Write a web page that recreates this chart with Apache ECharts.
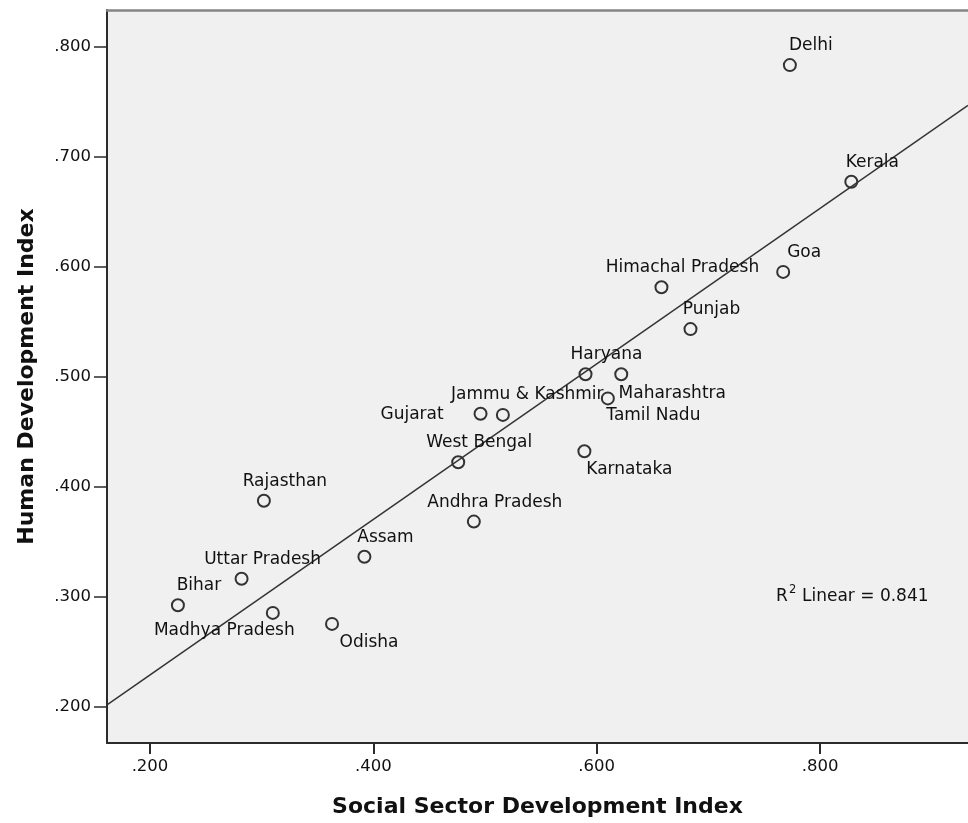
<!DOCTYPE html>
<html>
<head>
<meta charset="utf-8">
<script src="https://cdn.jsdelivr.net/npm/echarts@6/dist/echarts.min.js"></script>
<style>
  html, body { margin: 0; padding: 0; background: #ffffff; }
  #chart { width: 968px; height: 823px; }
</style>
</head>
<body>
<div id="chart"></div>
<script>
// States and their index values
const states = [
  'Delhi', 'Kerala', 'Goa', 'Himachal Pradesh', 'Punjab', 'Haryana',
  'Maharashtra', 'Tamil Nadu', 'Jammu & Kashmir', 'Gujarat', 'West Bengal',
  'Karnataka', 'Andhra Pradesh', 'Rajasthan', 'Assam', 'Uttar Pradesh',
  'Bihar', 'Madhya Pradesh', 'Odisha'
];
// Social Sector Development Index
const ssdi = [
  0.773, 0.828, 0.767, 0.658, 0.684, 0.590,
  0.622, 0.610, 0.516, 0.496, 0.476,
  0.589, 0.490, 0.302, 0.392, 0.282,
  0.225, 0.310, 0.363
];
// Human Development Index
const hdi = [
  0.783, 0.677, 0.595, 0.581, 0.543, 0.502,
  0.502, 0.480, 0.465, 0.466, 0.422,
  0.432, 0.368, 0.387, 0.336, 0.316,
  0.292, 0.285, 0.275
];
const xTicks = [0.2, 0.4, 0.6, 0.8];
const yTicks = [0.2, 0.3, 0.4, 0.5, 0.6, 0.7, 0.8];
const r2Text = 'Linear = 0.841';

// Axis extents
const X_MIN = 0.1615, X_MAX = 0.9325;
const Y_MIN = 0.1667, Y_MAX = 0.8331;

// Label placement (pixel offset of the label centre from its marker)
const DEFAULT_OFFSET = [21, -19.5];
const labelOffsets = {
  'Maharashtra': [51, 19],
  'Tamil Nadu': [45.5, 17],
  'Gujarat': [-68.5, 0.7],
  'Karnataka': [45, 18],
  'Madhya Pradesh': [-48.5, 17.3],
  'Odisha': [37, 18.3],
  'Jammu & Kashmir': [24.4, -20]
};

// Ordinary least squares fit of HDI on SSDI
function linearFit(xs, ys) {
  const n = xs.length;
  const mx = xs.reduce((a, b) => a + b, 0) / n;
  const my = ys.reduce((a, b) => a + b, 0) / n;
  let sxy = 0, sxx = 0;
  for (let i = 0; i < n; i++) {
    sxy += (xs[i] - mx) * (ys[i] - my);
    sxx += (xs[i] - mx) * (xs[i] - mx);
  }
  const slope = sxy / sxx;
  return { slope: slope, intercept: my - slope * mx };
}
const fit = linearFit(ssdi, hdi);
const fitLine = [X_MIN, X_MAX].map(x => [x, fit.intercept + fit.slope * x]);

const FONT = 'DejaVu Sans';
const fmt = v => '.' + v.toFixed(3).split('.')[1];

const points = states.map((s, i) => ({
  name: s,
  value: [ssdi[i], hdi[i]],
  label: { offset: labelOffsets[s] || DEFAULT_OFFSET }
}));

const chart = echarts.init(document.getElementById('chart'), null, { renderer: 'canvas' });
chart.setOption({
  animation: false,
  backgroundColor: '#ffffff',
  grid: {
    left: 107, right: 0, top: 10, bottom: 78,
    show: true, backgroundColor: '#f0f0f0', borderWidth: 0
  },
  xAxis: [{
    type: 'value', min: X_MIN, max: X_MAX,
    name: 'Social Sector Development Index',
    nameLocation: 'middle', nameGap: 53,
    nameTextStyle: { fontFamily: FONT, fontWeight: 'bold', fontSize: 22, color: '#111' },
    axisLine: { show: true, onZero: false, lineStyle: { color: '#2b2b2b', width: 2 } },
    axisTick: { show: true, length: 11, customValues: xTicks, lineStyle: { color: '#2b2b2b', width: 2 } },
    axisLabel: { customValues: xTicks, formatter: fmt, margin: 15,
      fontFamily: FONT, fontSize: 16.5, color: '#111' },
    splitLine: { show: false }
  }, {
    type: 'value', position: 'top', min: X_MIN, max: X_MAX,
    axisLine: { show: true, lineStyle: { color: '#858585', width: 2.5 } },
    axisTick: { show: false }, axisLabel: { show: false }, splitLine: { show: false }
  }],
  yAxis: {
    type: 'value', min: Y_MIN, max: Y_MAX,
    name: 'Human Development Index',
    nameLocation: 'middle', nameGap: 69, nameRotate: 90,
    nameTextStyle: { fontFamily: FONT, fontWeight: 'bold', fontSize: 22, color: '#111' },
    axisLine: { show: true, onZero: false, lineStyle: { color: '#2b2b2b', width: 2 } },
    axisTick: { show: true, length: 13, customValues: yTicks, lineStyle: { color: '#2b2b2b', width: 1.5 } },
    axisLabel: { customValues: yTicks, formatter: fmt, margin: 16,
      fontFamily: FONT, fontSize: 16.5, color: '#111' },
    splitLine: { show: false }
  },
  series: [{
    type: 'line',
    data: fitLine,
    showSymbol: false,
    silent: true,
    clip: true,
    lineStyle: { color: '#333333', width: 1.5 },
    z: 2
  }, {
    type: 'scatter',
    data: points,
    symbol: 'circle',
    symbolSize: 12,
    itemStyle: { color: 'rgba(0,0,0,0)', borderColor: '#333333', borderWidth: 2, opacity: 1 },
    label: {
      show: true, position: 'inside', formatter: '{b}',
      fontFamily: FONT, fontSize: 17, color: '#111',
      textBorderWidth: 0, align: 'center', verticalAlign: 'middle'
    },
    emphasis: { disabled: true },
    z: 3
  }],
  graphic: [{
    type: 'group', left: 776, top: 584,
    children: [
      { type: 'text', x: 0, y: 4, style: { text: 'R', fontFamily: FONT, fontSize: 17, fill: '#111' } },
      { type: 'text', x: 13, y: 0, style: { text: '2', fontFamily: FONT, fontSize: 11.5, fill: '#111' } },
      { type: 'text', x: 26, y: 4, style: { text: r2Text, fontFamily: FONT, fontSize: 17, fill: '#111' } }
    ]
  }]
});
</script>
</body>
</html>
